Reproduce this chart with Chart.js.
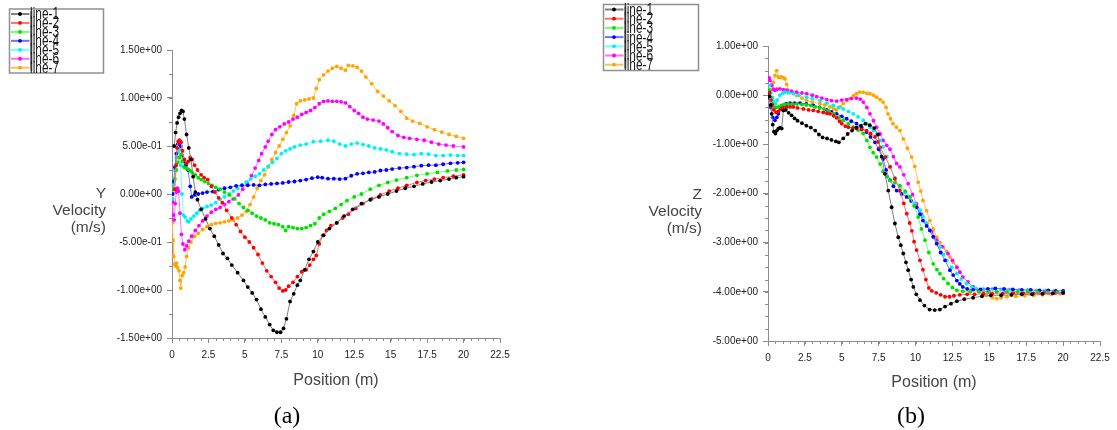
<!DOCTYPE html>
<html><head><meta charset="utf-8">
<script src="https://cdn.jsdelivr.net/npm/chart.js@4.4.1/dist/chart.umd.min.js"></script>
<style>
html,body{margin:0;padding:0;background:#fff;}
#wrap{position:relative;width:1117px;height:430px;overflow:hidden;font-family:"Liberation Sans",Arial,sans-serif;}
canvas{position:absolute;top:0;}
.ytitle{position:absolute;text-align:right;font-size:15.5px;line-height:17px;color:#454545;white-space:nowrap;}
.xtitle{position:absolute;font-size:16px;color:#454545;transform:translate(-50%,-50%);white-space:nowrap;}
.cap{position:absolute;font-family:"Liberation Serif","Times New Roman",serif;font-size:24px;color:#000;transform:translate(-50%,-50%);white-space:nowrap;}
</style></head>
<body><div id="wrap">
<canvas id="cA" width="560" height="400" style="left:0px"></canvas>
<canvas id="cB" width="557" height="400" style="left:560px"></canvas>
<div class="ytitle" style="right:1011px;top:184px">Y<br>Velocity<br>(m/s)</div>
<div class="ytitle" style="right:415px;top:185px">Z<br>Velocity<br>(m/s)</div>
<div class="xtitle" style="left:336px;top:380px">Position (m)</div>
<div class="xtitle" style="left:934px;top:382px">Position (m)</div>
<div class="cap" style="left:287px;top:415px">(a)</div>
<div class="cap" style="left:911px;top:415px">(b)</div>
</div>
<script>
// ---------- labels / ticks ----------
const seriesLabels = ["line-1","line-2","line-3","line-4","line-5","line-6","line-7"];
const xTickStep = 2.5;
const xRange = [0, 22.5];
const yRangeA = [-1.5, 1.5];
const yRangeB = [-5, 1];

// ---------- (a) Y velocity ----------
const yLine1 = [[0.15,0.50],[0.25,0.64],[0.35,0.74],[0.45,0.80],[0.55,0.84],[0.65,0.87],[0.75,0.86],[0.85,0.78],[1.0,0.62],[1.15,0.48],[1.3,0.36],[1.45,0.18],[1.6,0.02],[1.75,-0.06],[2.0,-0.16],[2.3,-0.26],[2.6,-0.36],[2.9,-0.44],[3.2,-0.53],[3.5,-0.62],[3.8,-0.67],[4.1,-0.74],[4.5,-0.82],[4.9,-0.90],[5.2,-0.97],[5.5,-1.03],[5.8,-1.10],[6.1,-1.20],[6.4,-1.28],[6.7,-1.36],[6.95,-1.42],[7.2,-1.44],[7.45,-1.44],[7.65,-1.40],[7.85,-1.30],[8.1,-1.12],[8.35,-1.04],[8.6,-0.95],[8.8,-0.90],[9.1,-0.79],[9.4,-0.68],[9.7,-0.60],[10.0,-0.50],[10.4,-0.43],[10.8,-0.36],[11.3,-0.30],[11.8,-0.23],[12.4,-0.16],[13.0,-0.10],[13.6,-0.06],[14.2,-0.03],[14.8,0.00],[15.4,0.03],[16.0,0.06],[16.6,0.08],[17.2,0.105],[17.8,0.125],[18.4,0.14],[19.0,0.155],[19.5,0.17],[20.0,0.18]];
const yLine2 = [[0.2,0.05],[0.28,0.3],[0.35,0.48],[0.43,0.55],[0.52,0.56],[0.62,0.54],[0.72,0.45],[0.85,0.36],[1.0,0.32],[1.12,0.34],[1.25,0.38],[1.38,0.36],[1.55,0.30],[1.75,0.25],[2.0,0.20],[2.2,0.17],[2.45,0.15],[2.7,0.08],[2.95,0.02],[3.2,-0.04],[3.45,-0.09],[3.75,-0.17],[4.1,-0.25],[4.4,-0.32],[4.7,-0.39],[5.0,-0.45],[5.3,-0.50],[5.6,-0.56],[5.9,-0.63],[6.2,-0.72],[6.5,-0.80],[6.8,-0.86],[7.1,-0.92],[7.35,-0.98],[7.6,-1.01],[7.8,-1.0],[8.0,-0.96],[8.3,-0.92],[8.6,-0.86],[8.9,-0.81],[9.2,-0.79],[9.45,-0.74],[9.7,-0.68],[9.9,-0.64],[10.1,-0.52],[10.35,-0.43],[10.6,-0.38],[10.9,-0.33],[11.3,-0.30],[11.7,-0.25],[12.1,-0.21],[12.6,-0.15],[13.1,-0.10],[13.7,-0.05],[14.3,-0.01],[14.9,0.03],[15.5,0.06],[16.1,0.09],[16.8,0.12],[17.4,0.14],[18.0,0.155],[18.6,0.17],[19.3,0.185],[20.0,0.20]];
const yLine3 = [[0.1,0.05],[0.2,0.16],[0.3,0.25],[0.4,0.33],[0.5,0.38],[0.62,0.41],[0.72,0.34],[0.82,0.28],[0.95,0.27],[1.1,0.26],[1.25,0.24],[1.4,0.22],[1.6,0.20],[1.8,0.17],[2.0,0.15],[2.25,0.13],[2.5,0.11],[2.75,0.09],[3.0,0.07],[3.3,0.05],[3.6,0.02],[3.95,-0.01],[4.3,-0.05],[4.6,-0.10],[4.9,-0.14],[5.2,-0.17],[5.5,-0.20],[5.8,-0.23],[6.1,-0.25],[6.4,-0.27],[6.7,-0.30],[7.0,-0.31],[7.3,-0.32],[7.6,-0.34],[7.8,-0.38],[8.0,-0.34],[8.3,-0.35],[8.6,-0.36],[8.9,-0.36],[9.2,-0.35],[9.5,-0.33],[9.8,-0.31],[10.1,-0.25],[10.4,-0.21],[10.8,-0.18],[11.2,-0.15],[11.6,-0.11],[12.0,-0.07],[12.5,-0.03],[13.0,0.0],[13.6,0.05],[14.2,0.09],[14.8,0.12],[15.4,0.145],[16.1,0.17],[16.8,0.195],[17.5,0.21],[18.2,0.225],[18.9,0.24],[19.5,0.25],[20.0,0.255]];
const yLine4 = [[0.05,0.0],[0.12,0.13],[0.2,0.28],[0.3,0.42],[0.4,0.52],[0.5,0.54],[0.6,0.50],[0.7,0.40],[0.8,0.34],[0.95,0.30],[1.1,0.25],[1.25,0.08],[1.35,-0.03],[1.55,-0.01],[1.8,0.0],[2.1,0.01],[2.4,0.02],[2.8,0.025],[3.2,0.045],[3.6,0.06],[4.0,0.07],[4.4,0.085],[4.8,0.09],[5.2,0.09],[5.6,0.095],[6.0,0.09],[6.4,0.10],[6.8,0.105],[7.2,0.11],[7.6,0.115],[8.0,0.125],[8.4,0.13],[8.8,0.14],[9.2,0.15],[9.6,0.165],[10.0,0.175],[10.3,0.17],[10.7,0.16],[11.1,0.16],[11.5,0.155],[11.9,0.16],[12.3,0.19],[12.7,0.21],[13.1,0.215],[13.5,0.225],[13.9,0.23],[14.3,0.245],[14.7,0.25],[15.1,0.26],[15.6,0.27],[16.1,0.275],[16.6,0.285],[17.1,0.295],[17.6,0.30],[18.1,0.30],[18.6,0.31],[19.1,0.32],[19.6,0.325],[20.0,0.33]];
const yLine5 = [[0.05,-0.05],[0.12,0.1],[0.2,0.25],[0.3,0.38],[0.42,0.44],[0.52,0.47],[0.6,0.30],[0.68,0.0],[0.78,-0.22],[0.9,-0.24],[1.05,-0.28],[1.15,-0.29],[1.3,-0.26],[1.5,-0.23],[1.7,-0.20],[1.9,-0.17],[2.1,-0.15],[2.4,-0.13],[2.7,-0.115],[3.0,-0.09],[3.3,-0.055],[3.6,-0.03],[3.9,0.0],[4.2,0.03],[4.5,0.06],[4.8,0.095],[5.1,0.125],[5.4,0.155],[5.7,0.185],[6.0,0.21],[6.3,0.25],[6.6,0.29],[6.9,0.33],[7.2,0.37],[7.5,0.42],[7.8,0.45],[8.1,0.47],[8.4,0.49],[8.8,0.51],[9.2,0.52],[9.7,0.545],[10.2,0.55],[10.7,0.56],[11.1,0.55],[11.5,0.52],[11.9,0.50],[12.3,0.52],[12.7,0.53],[13.1,0.515],[13.5,0.50],[13.9,0.48],[14.3,0.47],[14.7,0.46],[15.1,0.44],[15.6,0.42],[16.1,0.415],[16.6,0.41],[17.1,0.42],[17.6,0.415],[18.1,0.40],[18.6,0.40],[19.1,0.405],[19.6,0.40],[20.0,0.40]];
const yLine6 = [[0.05,-0.08],[0.1,-0.22],[0.15,-0.27],[0.22,-0.10],[0.3,0.02],[0.38,0.06],[0.45,0.03],[0.55,-0.2],[0.65,-0.42],[0.75,-0.52],[0.88,-0.58],[1.0,-0.54],[1.15,-0.49],[1.35,-0.44],[1.6,-0.38],[1.85,-0.33],[2.1,-0.28],[2.4,-0.23],[2.7,-0.19],[3.0,-0.16],[3.3,-0.14],[3.6,-0.11],[3.9,-0.08],[4.2,-0.05],[4.55,-0.01],[4.85,0.05],[5.15,0.11],[5.45,0.19],[5.7,0.27],[5.95,0.35],[6.15,0.42],[6.4,0.49],[6.6,0.55],[6.85,0.62],[7.1,0.67],[7.4,0.70],[7.7,0.73],[8.0,0.75],[8.3,0.78],[8.6,0.80],[8.9,0.83],[9.2,0.85],[9.5,0.87],[9.8,0.90],[10.1,0.94],[10.4,0.965],[10.7,0.97],[11.0,0.965],[11.3,0.965],[11.6,0.96],[11.9,0.95],[12.2,0.91],[12.5,0.87],[12.8,0.84],[13.1,0.80],[13.4,0.78],[13.8,0.77],[14.2,0.76],[14.5,0.73],[14.8,0.69],[15.1,0.65],[15.5,0.61],[15.9,0.59],[16.3,0.58],[16.8,0.57],[17.3,0.56],[17.8,0.54],[18.3,0.52],[18.8,0.51],[19.3,0.50],[20.0,0.49]];
const yLine7 = [[0.03,-0.30],[0.08,-0.48],[0.12,-0.65],[0.18,-0.73],[0.25,-0.75],[0.32,-0.72],[0.4,-0.77],[0.48,-0.80],[0.55,-0.90],[0.6,-0.98],[0.7,-0.85],[0.8,-0.82],[0.9,-0.76],[1.0,-0.65],[1.12,-0.56],[1.3,-0.50],[1.55,-0.44],[1.8,-0.41],[2.1,-0.37],[2.4,-0.34],[2.7,-0.32],[3.0,-0.305],[3.3,-0.30],[3.6,-0.29],[3.9,-0.28],[4.2,-0.27],[4.5,-0.25],[4.8,-0.22],[5.1,-0.18],[5.35,-0.11],[5.6,-0.03],[5.85,0.06],[6.1,0.14],[6.35,0.20],[6.6,0.28],[6.85,0.36],[7.1,0.43],[7.35,0.50],[7.6,0.57],[7.85,0.64],[8.1,0.71],[8.35,0.82],[8.55,0.94],[8.8,0.97],[9.1,0.98],[9.4,0.99],[9.7,1.0],[9.9,1.1],[10.1,1.19],[10.4,1.24],[10.7,1.28],[11.0,1.31],[11.3,1.33],[11.6,1.31],[11.9,1.29],[12.1,1.34],[12.4,1.335],[12.7,1.32],[13.0,1.28],[13.3,1.22],[13.7,1.15],[14.1,1.07],[14.5,1.02],[14.9,0.97],[15.3,0.92],[15.7,0.86],[16.1,0.79],[16.5,0.76],[17.0,0.735],[17.5,0.70],[18.0,0.67],[18.5,0.645],[19.0,0.62],[19.5,0.60],[20.0,0.58]];

// ---------- (b) Z velocity ----------
const zLine1 = [[0.1,-0.02],[0.18,-0.2],[0.25,-0.38],[0.32,-0.6],[0.4,-0.74],[0.5,-0.78],[0.6,-0.72],[0.7,-0.68],[0.82,-0.66],[0.93,-0.68],[1.04,-0.31],[1.2,-0.30],[1.4,-0.36],[1.6,-0.41],[1.8,-0.47],[2.0,-0.52],[2.3,-0.57],[2.6,-0.62],[2.9,-0.66],[3.2,-0.72],[3.45,-0.80],[3.7,-0.86],[4.0,-0.88],[4.3,-0.91],[4.6,-0.94],[4.8,-0.96],[5.1,-0.88],[5.4,-0.79],[5.7,-0.72],[6.0,-0.66],[6.3,-0.62],[6.6,-0.58],[6.9,-0.61],[7.2,-0.67],[7.45,-0.80],[7.7,-1.25],[7.93,-1.60],[8.15,-1.94],[8.38,-2.28],[8.6,-2.61],[8.83,-2.89],[9.0,-3.05],[9.17,-3.22],[9.35,-3.40],[9.5,-3.56],[9.7,-3.75],[9.85,-3.90],[10.05,-4.05],[10.3,-4.17],[10.6,-4.28],[10.95,-4.36],[11.3,-4.37],[11.65,-4.36],[12.0,-4.30],[12.4,-4.24],[12.8,-4.19],[13.3,-4.15],[13.9,-4.12],[14.5,-4.09],[15.1,-4.07],[15.8,-4.07],[16.5,-4.06],[17.2,-4.05],[17.9,-4.05],[18.6,-4.04],[19.3,-4.03],[20.0,-4.02]];
const zLine2 = [[0.1,0.05],[0.2,-0.1],[0.28,-0.2],[0.4,-0.3],[0.55,-0.35],[0.7,-0.33],[0.85,-0.29],[1.0,-0.26],[1.27,-0.24],[1.5,-0.24],[1.72,-0.24],[2.0,-0.26],[2.4,-0.28],[2.75,-0.30],[3.07,-0.31],[3.4,-0.33],[3.75,-0.35],[4.0,-0.37],[4.2,-0.38],[4.45,-0.42],[4.65,-0.46],[4.85,-0.53],[5.0,-0.58],[5.25,-0.63],[5.45,-0.65],[5.75,-0.67],[6.0,-0.68],[6.35,-0.70],[6.68,-0.72],[6.95,-0.78],[7.25,-0.85],[7.45,-0.95],[7.6,-1.06],[7.95,-1.26],[8.27,-1.46],[8.6,-1.70],[8.94,-1.94],[9.2,-2.2],[9.4,-2.41],[9.6,-2.6],[9.75,-2.76],[9.9,-2.98],[10.07,-3.15],[10.3,-3.36],[10.5,-3.55],[10.7,-3.75],[10.9,-3.92],[11.1,-3.98],[11.4,-4.02],[11.7,-4.06],[12.0,-4.10],[12.3,-4.10],[12.6,-4.08],[13.0,-4.06],[13.5,-4.05],[14.0,-4.05],[14.6,-4.04],[15.2,-4.04],[15.9,-4.04],[16.6,-4.03],[17.3,-4.03],[18.0,-4.03],[18.7,-4.02],[19.4,-4.02],[20.0,-4.02]];
const zLine3 = [[0.1,0.1],[0.2,-0.05],[0.3,-0.18],[0.4,-0.24],[0.55,-0.25],[0.7,-0.24],[0.9,-0.21],[1.1,-0.19],[1.35,-0.18],[1.65,-0.18],[1.95,-0.18],[2.3,-0.19],[2.6,-0.20],[2.9,-0.21],[3.2,-0.24],[3.5,-0.26],[3.8,-0.28],[4.1,-0.32],[4.45,-0.38],[4.8,-0.45],[5.1,-0.51],[5.45,-0.58],[5.8,-0.65],[6.1,-0.71],[6.45,-0.78],[6.7,-0.92],[6.91,-1.06],[7.13,-1.17],[7.36,-1.26],[7.6,-1.40],[7.8,-1.55],[8.05,-1.66],[8.27,-1.73],[8.6,-1.78],[8.94,-1.84],[9.3,-1.95],[9.62,-2.07],[9.9,-2.25],[10.18,-2.48],[10.4,-2.72],[10.64,-2.95],[10.9,-3.2],[11.2,-3.43],[11.45,-3.55],[11.65,-3.63],[11.9,-3.73],[12.2,-3.83],[12.5,-3.91],[12.8,-3.97],[13.2,-3.99],[13.7,-4.0],[14.3,-4.0],[14.9,-4.0],[15.5,-4.0],[16.2,-4.0],[16.9,-4.0],[17.6,-4.0],[18.3,-4.01],[19.0,-4.01],[19.6,-4.01],[20.0,-4.01]];
const zLine4 = [[0.1,-0.05],[0.2,-0.25],[0.32,-0.45],[0.47,-0.51],[0.6,-0.45],[0.7,-0.38],[0.85,-0.28],[1.04,-0.21],[1.25,-0.17],[1.5,-0.16],[1.8,-0.16],[2.17,-0.16],[2.6,-0.18],[3.07,-0.21],[3.5,-0.25],[3.98,-0.30],[4.3,-0.34],[4.65,-0.38],[5.0,-0.43],[5.33,-0.48],[5.65,-0.53],[6.0,-0.58],[6.35,-0.66],[6.68,-0.75],[6.95,-0.85],[7.25,-0.96],[7.5,-1.10],[7.8,-1.30],[8.0,-1.52],[8.27,-1.73],[8.5,-1.85],[8.72,-1.94],[9.05,-2.01],[9.4,-2.07],[9.7,-2.15],[10.07,-2.28],[10.3,-2.42],[10.5,-2.55],[10.75,-2.66],[10.97,-2.75],[11.2,-2.88],[11.43,-3.02],[11.7,-3.2],[12.0,-3.36],[12.33,-3.56],[12.55,-3.66],[12.8,-3.77],[13.0,-3.84],[13.2,-3.90],[13.5,-3.94],[13.9,-3.96],[14.4,-3.95],[14.9,-3.94],[15.4,-3.93],[16.0,-3.94],[16.6,-3.95],[17.2,-3.96],[17.8,-3.96],[18.4,-3.97],[19.0,-3.97],[19.5,-3.98],[20.0,-3.98]];
const zLine5 = [[0.1,0.2],[0.2,0.05],[0.3,-0.05],[0.38,-0.12],[0.5,-0.17],[0.62,-0.1],[0.8,0.0],[1.0,0.04],[1.15,0.06],[1.4,0.05],[1.72,0.03],[2.1,0.0],[2.62,-0.04],[3.0,-0.07],[3.52,-0.11],[4.0,-0.16],[4.43,-0.21],[4.8,-0.25],[5.1,-0.28],[5.45,-0.33],[5.78,-0.38],[6.1,-0.44],[6.46,-0.51],[6.7,-0.58],[6.91,-0.65],[7.15,-0.72],[7.36,-0.80],[7.6,-0.92],[7.8,-1.05],[8.05,-1.25],[8.27,-1.45],[8.6,-1.68],[8.94,-1.87],[9.3,-1.98],[9.62,-2.07],[9.95,-2.2],[10.3,-2.34],[10.5,-2.47],[10.75,-2.61],[11.0,-2.76],[11.2,-2.89],[11.45,-3.0],[11.65,-3.09],[11.9,-3.24],[12.1,-3.36],[12.45,-3.5],[12.8,-3.63],[13.1,-3.74],[13.45,-3.83],[13.8,-3.9],[14.1,-3.93],[14.6,-3.94],[15.2,-3.94],[15.8,-3.95],[16.4,-3.95],[17.0,-3.96],[17.6,-3.96],[18.2,-3.97],[18.8,-3.97],[19.4,-3.98],[20.0,-3.98]];
const zLine6 = [[0.08,0.35],[0.14,0.3],[0.25,0.2],[0.36,0.12],[0.47,0.10],[0.6,0.12],[0.81,0.13],[1.05,0.11],[1.27,0.10],[1.6,0.08],[1.94,0.06],[2.3,0.045],[2.62,0.03],[3.0,0.0],[3.3,-0.03],[3.65,-0.06],[3.98,-0.09],[4.3,-0.11],[4.65,-0.12],[5.0,-0.10],[5.33,-0.09],[5.65,-0.07],[6.0,-0.06],[6.25,-0.08],[6.46,-0.14],[6.7,-0.25],[6.91,-0.38],[7.15,-0.52],[7.36,-0.65],[7.6,-0.79],[7.8,-0.92],[8.05,-1.02],[8.27,-1.10],[8.5,-1.25],[8.72,-1.39],[8.94,-1.46],[9.2,-1.62],[9.5,-1.80],[9.8,-2.02],[10.07,-2.21],[10.4,-2.42],[10.75,-2.61],[11.1,-2.78],[11.43,-2.95],[11.8,-3.08],[12.2,-3.22],[12.5,-3.36],[12.8,-3.50],[13.0,-3.60],[13.2,-3.70],[13.55,-3.80],[13.9,-3.90],[14.25,-3.96],[14.6,-4.0],[15.0,-4.0],[15.5,-4.0],[16.0,-4.01],[16.6,-4.01],[17.2,-4.01],[17.8,-4.02],[18.4,-4.02],[19.0,-4.02],[19.5,-4.02],[20.0,-4.02]];
const zLine7 = [[0.05,0.05],[0.15,0.1],[0.25,0.2],[0.36,0.26],[0.47,0.40],[0.59,0.50],[0.7,0.37],[0.82,0.36],[0.93,0.37],[1.05,0.35],[1.15,0.33],[1.27,0.22],[1.38,0.10],[1.6,0.05],[1.94,-0.005],[2.3,-0.06],[2.62,-0.11],[3.0,-0.14],[3.52,-0.17],[3.85,-0.20],[4.2,-0.24],[4.45,-0.28],[4.65,-0.30],[4.9,-0.24],[5.1,-0.17],[5.35,-0.11],[5.55,-0.07],[5.8,-0.01],[6.0,0.03],[6.2,0.06],[6.45,0.06],[6.7,0.04],[6.91,0.03],[7.15,0.0],[7.36,-0.04],[7.6,-0.09],[7.8,-0.14],[8.0,-0.25],[8.13,-0.38],[8.3,-0.48],[8.47,-0.58],[8.7,-0.65],[8.94,-0.72],[9.17,-0.89],[9.45,-1.08],[9.73,-1.26],[9.95,-1.45],[10.18,-1.77],[10.35,-1.95],[10.5,-2.14],[10.75,-2.35],[10.97,-2.55],[11.2,-2.72],[11.43,-2.89],[11.65,-3.0],[11.88,-3.09],[12.1,-3.18],[12.33,-3.29],[12.55,-3.40],[12.8,-3.50],[13.0,-3.60],[13.2,-3.70],[13.55,-3.80],[13.9,-3.90],[14.3,-3.99],[14.8,-4.07],[15.2,-4.12],[15.5,-4.14],[15.8,-4.12],[16.2,-4.10],[16.8,-4.09],[17.4,-4.08],[18.0,-4.07],[18.6,-4.06],[19.2,-4.05],[19.8,-4.04],[20.0,-4.03]];

const seriesA = [yLine1,yLine2,yLine3,yLine4,yLine5,yLine6,yLine7];
const seriesB = [zLine1,zLine2,zLine3,zLine4,zLine5,zLine6,zLine7];

// ---------- styling ----------
const lineColors  = ["#808080","#ff7070","#70ff70","#7070ff","#70ffff","#ff70ff","#ffc060"];
const pointColors = ["#000000","#ff0000","#00e000","#0000ff","#00f0f0","#ff00ff","#ffa500"];
const FONT = '"Liberation Sans", Arial, sans-serif';
const AXIS = '#8c8c8c';

function fmtExp(v){
  let s = Number(v).toExponential(2);
  const m = s.match(/^(-?[\d.]+)e([+-])(\d+)$/);
  if (!m) return s;
  return m[1] + 'e' + m[2] + (m[3].length < 2 ? '0' + m[3] : m[3]);
}

const minorTicks = {
  id: 'minorTicks',
  afterDraw(chart, args, o){
    const ctx = chart.ctx, xs = chart.scales.x, ys = chart.scales.y;
    ctx.save();
    ctx.strokeStyle = AXIS; ctx.lineWidth = 1;
    ctx.beginPath();
    const nx = Math.round((xs.max - xs.min) / o.xStep);
    for (let i = 0; i <= nx; i++){
      const px = Math.round(xs.getPixelForValue(xs.min + i * o.xStep)) + 0.5;
      ctx.moveTo(px, xs.top); ctx.lineTo(px, xs.top + 3);
    }
    const ny = Math.round((ys.max - ys.min) / o.yStep);
    for (let i = 0; i <= ny; i++){
      const py = Math.round(ys.getPixelForValue(ys.min + i * o.yStep)) + 0.5;
      ctx.moveTo(ys.right, py); ctx.lineTo(ys.right - 3, py);
    }
    ctx.stroke();
    ctx.restore();
  }
};

const boxLegend = {
  id: 'boxLegend',
  afterDraw(chart, args, o){
    const ctx = chart.ctx;
    ctx.save();
    ctx.fillStyle = '#fff';
    ctx.fillRect(o.x, o.y, o.w, o.h);
    ctx.strokeStyle = '#909090'; ctx.lineWidth = 1.5;
    ctx.strokeRect(o.x, o.y, o.w, o.h);
    ctx.fillStyle = '#a0a0a0';
    ctx.fillRect(o.x + 20.5, o.y + 2, 2.5, o.h - 4);
    ctx.font = '12.5px ' + FONT;
    ctx.textBaseline = 'middle';
    chart.data.datasets.forEach((ds, i) => {
      const cy = o.y + o.first + i * o.step;
      ctx.strokeStyle = ds.borderColor; ctx.lineWidth = 2;
      ctx.beginPath(); ctx.moveTo(o.x + 1.5, cy); ctx.lineTo(o.x + 20, cy); ctx.stroke();
      ctx.fillStyle = ds.pointBackgroundColor;
      ctx.beginPath(); ctx.arc(o.x + 10.5, cy, 1.9, 0, Math.PI * 2); ctx.fill();
      ctx.save();
      ctx.translate(o.x + 20.5, cy + 1);
      ctx.scale(0.95, 1.3);
      ctx.fillStyle = '#1a1a1a';
      ctx.fillText(ds.label, 0, 0);
      ctx.restore();
    });
    ctx.restore();
  }
};

function makeChart(id, series, cfg){
  return new Chart(document.getElementById(id), {
    type: 'line',
    data: {
      datasets: series.map((d, i) => ({
        label: seriesLabels[i],
        data: d,
        borderColor: lineColors[i],
        backgroundColor: pointColors[i],
        pointBackgroundColor: pointColors[i],
        pointBorderWidth: 0,
        pointRadius: 1.9,
        borderWidth: 1,
        tension: 0,
        fill: false
      }))
    },
    options: {
      responsive: false,
      animation: false,
      events: [],
      layout: { padding: { left: 0, top: cfg.top, right: cfg.right, bottom: 0 } },
      scales: {
        x: {
          type: 'linear', min: xRange[0], max: xRange[1],
          afterFit(s){ s.height = cfg.xh; },
          ticks: { stepSize: xTickStep, padding: 6, color: '#222', font: { size: 10, family: FONT }, maxRotation: 0, autoSkip: false, callback: v => String(v) },
          grid: { drawOnChartArea: false, tickLength: 5, tickColor: AXIS },
          border: { color: AXIS, width: 1 }
        },
        y: {
          type: 'linear', min: cfg.ymin, max: cfg.ymax,
          afterFit(s){ s.width = cfg.yw; },
          ticks: { stepSize: cfg.ystep, padding: 5, color: '#222', font: { size: 10, family: FONT }, autoSkip: false, callback: v => fmtExp(v) },
          grid: { drawOnChartArea: false, tickLength: 5, tickColor: AXIS },
          border: { color: AXIS, width: 1 }
        }
      },
      plugins: {
        legend: { display: false },
        tooltip: { enabled: false },
        minorTicks: { xStep: 0.5, yStep: 0.25 },
        boxLegend: cfg.legend
      }
    },
    plugins: [minorTicks, boxLegend]
  });
}

makeChart('cA', seriesA, { top: 50, right: 60, xh: 62, yw: 172, ymin: yRangeA[0], ymax: yRangeA[1], ystep: 0.5,
  legend: { x: 9.5, y: 9, w: 94, h: 64, first: 5, step: 8.95 } });
makeChart('cB', seriesB, { top: 46, right: 17, xh: 59, yw: 208, ymin: yRangeB[0], ymax: yRangeB[1], ystep: 1,
  legend: { x: 43.5, y: 4.5, w: 95, h: 66, first: 5, step: 9.2 } });
</script>
</body></html>
